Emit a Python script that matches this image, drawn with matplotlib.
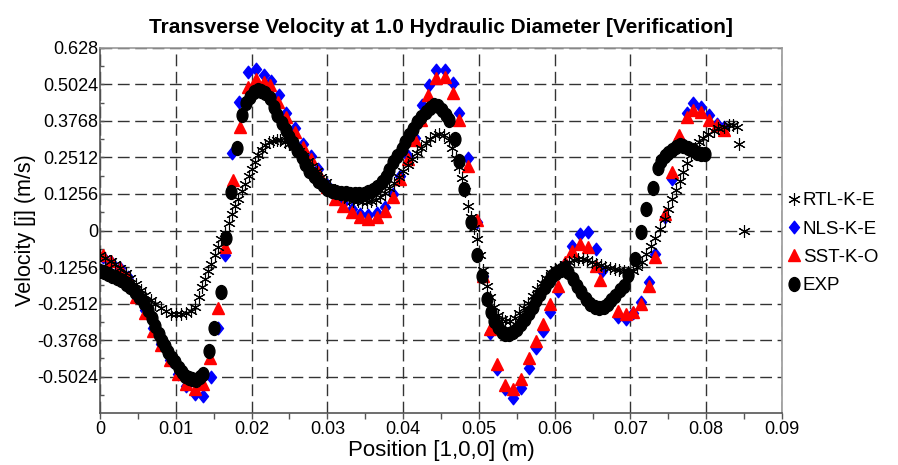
import matplotlib
matplotlib.use('Agg')
import matplotlib.pyplot as plt
from matplotlib.path import Path
from matplotlib.transforms import Affine2D
from matplotlib.ticker import FixedLocator, MultipleLocator

plt.rcParams['font.family'] = ['Liberation Sans', 'DejaVu Sans']

# RTL-K-E (asterisks)
rtl_x = [0.0000, 0.0007, 0.0014, 0.0020, 0.0027, 0.0034, 0.0040, 0.0047, 0.0054, 0.0060,
         0.0067, 0.0073, 0.0080, 0.0087, 0.0094, 0.0100, 0.0107, 0.0114, 0.0120, 0.0125,
         0.0130, 0.0135, 0.0139, 0.0143, 0.0147, 0.0152, 0.0156, 0.0160, 0.0165, 0.0170,
         0.0174, 0.0178, 0.0182, 0.0187, 0.0191, 0.0196, 0.0200, 0.0205, 0.0209, 0.0214,
         0.0218, 0.0223, 0.0228, 0.0233, 0.0238, 0.0244, 0.0250, 0.0256, 0.0262, 0.0268,
         0.0274, 0.0280, 0.0286, 0.0292, 0.0298, 0.0304, 0.0310, 0.0316, 0.0322, 0.0328,
         0.0334, 0.0340, 0.0346, 0.0352, 0.0358, 0.0364, 0.0370, 0.0376, 0.0382, 0.0388,
         0.0394, 0.0400, 0.0406, 0.0412, 0.0418, 0.0424, 0.0430, 0.0436, 0.0442, 0.0448,
         0.0454, 0.0460, 0.0465, 0.0470, 0.0474, 0.0478, 0.0482, 0.0486, 0.0490, 0.0494,
         0.0498, 0.0502, 0.0506, 0.0511, 0.0515, 0.0520, 0.0525, 0.0530, 0.0535, 0.0541,
         0.0547, 0.0553, 0.0559, 0.0565, 0.0571, 0.0577, 0.0583, 0.0589, 0.0595, 0.0601,
         0.0607, 0.0613, 0.0619, 0.0625, 0.0631, 0.0637, 0.0643, 0.0649, 0.0655, 0.0661,
         0.0667, 0.0673, 0.0679, 0.0685, 0.0691, 0.0697, 0.0703, 0.0709, 0.0715, 0.0721,
         0.0727, 0.0733, 0.0739, 0.0745, 0.0750, 0.0755, 0.0760, 0.0765, 0.0770, 0.0775,
         0.0780, 0.0785, 0.0790, 0.0796, 0.0803, 0.0810, 0.0816, 0.0823, 0.0830, 0.0836,
         0.0841, 0.0843, 0.0850]
rtl_y = [-0.086, -0.094, -0.104, -0.115, -0.128, -0.145, -0.162, -0.183, -0.205, -0.222,
         -0.238, -0.253, -0.266, -0.278, -0.286, -0.289, -0.288, -0.284, -0.276, -0.262,
         -0.228, -0.195, -0.167, -0.140, -0.115, -0.086, -0.058, -0.030, -0.010, 0.025,
         0.058, 0.085, 0.109, 0.135, 0.161, 0.188, 0.213, 0.236, 0.259, 0.276,
         0.293, 0.303, 0.307, 0.310, 0.311, 0.306, 0.298, 0.287, 0.272, 0.256,
         0.240, 0.222, 0.204, 0.184, 0.166, 0.150, 0.136, 0.124, 0.115, 0.108,
         0.103, 0.100, 0.098, 0.098, 0.101, 0.106, 0.115, 0.128, 0.145, 0.163,
         0.183, 0.205, 0.226, 0.247, 0.267, 0.285, 0.302, 0.316, 0.327, 0.333,
         0.330, 0.312, 0.285, 0.250, 0.220, 0.180, 0.135, 0.085, 0.045, 0.010,
         -0.030, -0.085, -0.135, -0.190, -0.230, -0.262, -0.290, -0.305, -0.312, -0.310,
         -0.300, -0.285, -0.268, -0.248, -0.225, -0.202, -0.180, -0.162, -0.146, -0.134,
         -0.124, -0.115, -0.108, -0.103, -0.099, -0.098, -0.102, -0.109, -0.115, -0.120,
         -0.125, -0.129, -0.132, -0.136, -0.139, -0.142, -0.140, -0.125, -0.109, -0.082,
         -0.055, -0.025, 0.005, 0.040, 0.075, 0.109, 0.140, 0.170, 0.200, 0.232,
         0.260, 0.285, 0.305, 0.320, 0.333, 0.343, 0.351, 0.357, 0.362, 0.362,
         0.356, 0.299, 0.000]

# NLS-K-E (blue diamonds)
nls_x = [0.0004, 0.0015, 0.0026, 0.0037, 0.0048, 0.0059, 0.0070, 0.0081, 0.0092, 0.0103,
         0.0114, 0.0125, 0.0136, 0.0147, 0.0156, 0.0165, 0.0174, 0.0184, 0.0195, 0.0206,
         0.0216, 0.0226, 0.0236, 0.0246, 0.0257, 0.0268, 0.0278, 0.0288, 0.0299, 0.0310,
         0.0321, 0.0332, 0.0343, 0.0354, 0.0365, 0.0376, 0.0386, 0.0396, 0.0406, 0.0416,
         0.0425, 0.0434, 0.0444, 0.0455, 0.0466, 0.0474, 0.0485, 0.0497, 0.0506, 0.0514,
         0.0524, 0.0534, 0.0545, 0.0555, 0.0566, 0.0575, 0.0584, 0.0594, 0.0605, 0.0614,
         0.0623, 0.0634, 0.0644, 0.0654, 0.0662, 0.0684, 0.0694, 0.0704, 0.0714, 0.0724,
         0.0733, 0.0745, 0.0755, 0.0764, 0.0774, 0.0783, 0.0793, 0.0804, 0.0814, 0.0824]
nls_y = [-0.090, -0.108, -0.128, -0.160, -0.215, -0.275, -0.335, -0.390, -0.445, -0.495,
         -0.535, -0.564, -0.568, -0.504, -0.337, -0.084, 0.265, 0.443, 0.546, 0.557,
         0.535, 0.515, 0.466, 0.403, 0.351, 0.299, 0.255, 0.210, 0.158, 0.118,
         0.095, 0.075, 0.058, 0.052, 0.060, 0.080, 0.125, 0.188, 0.256, 0.320,
         0.431, 0.500, 0.552, 0.552, 0.506, 0.405, 0.250, 0.029, -0.155, -0.351,
         -0.478, -0.547, -0.576, -0.541, -0.472, -0.403, -0.345, -0.282, -0.207, -0.115,
         -0.052, -0.012, -0.006, -0.065, -0.140, -0.299, -0.305, -0.285, -0.245, -0.178,
         -0.081, 0.046, 0.178, 0.316, 0.403, 0.437, 0.425, 0.397, 0.368, 0.356]

# SST-K-O (red triangles)
sst_x = [0.0004, 0.0015, 0.0026, 0.0037, 0.0048, 0.0059, 0.0070, 0.0081, 0.0092, 0.0103,
         0.0114, 0.0125, 0.0136, 0.0145, 0.0156, 0.0165, 0.0176, 0.0185, 0.0195, 0.0206,
         0.0216, 0.0224, 0.0235, 0.0246, 0.0257, 0.0268, 0.0278, 0.0288, 0.0299, 0.0310,
         0.0321, 0.0332, 0.0343, 0.0354, 0.0365, 0.0376, 0.0386, 0.0396, 0.0406, 0.0416,
         0.0424, 0.0433, 0.0444, 0.0455, 0.0466, 0.0474, 0.0485, 0.0497, 0.0506, 0.0514,
         0.0524, 0.0534, 0.0545, 0.0555, 0.0566, 0.0575, 0.0584, 0.0594, 0.0605, 0.0614,
         0.0623, 0.0634, 0.0644, 0.0654, 0.0660, 0.0684, 0.0694, 0.0704, 0.0714, 0.0724,
         0.0733, 0.0745, 0.0755, 0.0764, 0.0774, 0.0783, 0.0793, 0.0804, 0.0814, 0.0824]
sst_y = [-0.085, -0.105, -0.130, -0.165, -0.228, -0.285, -0.345, -0.395, -0.445, -0.495,
         -0.528, -0.546, -0.528, -0.437, -0.265, -0.058, 0.173, 0.356, 0.495, 0.523,
         0.512, 0.500, 0.443, 0.391, 0.339, 0.288, 0.245, 0.200, 0.150, 0.110,
         0.085, 0.065, 0.046, 0.040, 0.045, 0.068, 0.115, 0.178, 0.245, 0.310,
         0.380, 0.466, 0.524, 0.529, 0.472, 0.380, 0.223, 0.035, -0.155, -0.339,
         -0.460, -0.530, -0.547, -0.512, -0.437, -0.380, -0.322, -0.253, -0.190, -0.109,
         -0.069, -0.046, -0.058, -0.121, -0.170, -0.276, -0.288, -0.282, -0.253, -0.190,
         -0.092, 0.058, 0.201, 0.328, 0.391, 0.414, 0.408, 0.380, 0.362, 0.345]

# EXP (black circles)
exp_x = [0.0000, 0.0005, 0.0010, 0.0016, 0.0022, 0.0028, 0.0034, 0.0040, 0.0046, 0.0052,
         0.0058, 0.0063, 0.0068, 0.0073, 0.0078, 0.0082, 0.0086, 0.0090, 0.0095, 0.0099,
         0.0104, 0.0108, 0.0112, 0.0117, 0.0122, 0.0127, 0.0132, 0.0136, 0.0144, 0.0150,
         0.0159, 0.0166, 0.0173, 0.0181, 0.0187, 0.0193, 0.0198, 0.0203, 0.0208, 0.0213,
         0.0218, 0.0224, 0.0229, 0.0234, 0.0240, 0.0245, 0.0250, 0.0255, 0.0260, 0.0266,
         0.0271, 0.0276, 0.0282, 0.0288, 0.0294, 0.0300, 0.0306, 0.0312, 0.0318, 0.0324,
         0.0330, 0.0336, 0.0342, 0.0348, 0.0354, 0.0360, 0.0366, 0.0372, 0.0377, 0.0382,
         0.0387, 0.0392, 0.0398, 0.0403, 0.0408, 0.0413, 0.0418, 0.0424, 0.0430, 0.0436,
         0.0441, 0.0446, 0.0451, 0.0456, 0.0460, 0.0468, 0.0474, 0.0481, 0.0489, 0.0497,
         0.0504, 0.0511, 0.0516, 0.0520, 0.0525, 0.0530, 0.0535, 0.0540, 0.0545, 0.0550,
         0.0556, 0.0561, 0.0566, 0.0571, 0.0576, 0.0581, 0.0587, 0.0592, 0.0597, 0.0602,
         0.0608, 0.0613, 0.0618, 0.0624, 0.0629, 0.0635, 0.0641, 0.0647, 0.0653, 0.0659,
         0.0665, 0.0670, 0.0675, 0.0680, 0.0686, 0.0691, 0.0697, 0.0706, 0.0714, 0.0721,
         0.0730, 0.0736, 0.0740, 0.0745, 0.0750, 0.0755, 0.0760, 0.0765, 0.0770, 0.0776,
         0.0782, 0.0788, 0.0793, 0.0798]
exp_y = [-0.138, -0.142, -0.148, -0.155, -0.163, -0.172, -0.183, -0.195, -0.210, -0.228,
         -0.250, -0.275, -0.300, -0.328, -0.355, -0.380, -0.397, -0.418, -0.438, -0.454,
         -0.472, -0.488, -0.500, -0.508, -0.512, -0.513, -0.505, -0.495, -0.415, -0.337,
         -0.210, -0.026, 0.132, 0.284, 0.397, 0.440, 0.460, 0.477, 0.483, 0.480,
         0.473, 0.455, 0.425, 0.398, 0.370, 0.345, 0.322, 0.300, 0.278, 0.252,
         0.228, 0.205, 0.188, 0.170, 0.155, 0.142, 0.136, 0.132, 0.130, 0.128,
         0.127, 0.126, 0.126, 0.127, 0.131, 0.138, 0.150, 0.168, 0.185, 0.208,
         0.236, 0.258, 0.282, 0.305, 0.330, 0.350, 0.372, 0.391, 0.408, 0.423,
         0.431, 0.428, 0.414, 0.398, 0.379, 0.316, 0.238, 0.144, 0.029, -0.084,
         -0.155, -0.234, -0.280, -0.310, -0.332, -0.348, -0.356, -0.357, -0.350, -0.338,
         -0.322, -0.305, -0.285, -0.262, -0.240, -0.218, -0.195, -0.175, -0.158, -0.145,
         -0.135, -0.130, -0.142, -0.167, -0.192, -0.213, -0.235, -0.252, -0.262, -0.266,
         -0.262, -0.252, -0.240, -0.225, -0.205, -0.190, -0.153, -0.098, -0.006, 0.074,
         0.146, 0.215, 0.240, 0.255, 0.268, 0.278, 0.288, 0.293, 0.292, 0.285,
         0.276, 0.268, 0.264, 0.264]

y_ticks = [0.628, 0.5024, 0.3768, 0.2512, 0.1256, 0, -0.1256, -0.2512, -0.3768, -0.5024]
y_labels = ['0.628', '0.5024', '0.3768', '0.2512', '0.1256', '0',
            '-0.1256', '-0.2512', '-0.3768', '-0.5024']
x_ticks = [0, 0.01, 0.02, 0.03, 0.04, 0.05, 0.06, 0.07, 0.08, 0.09]
x_labels = ['0', '0.01', '0.02', '0.03', '0.04', '0.05', '0.06', '0.07', '0.08', '0.09']

# slightly tall markers like the original
ellipse = Path.unit_circle().transformed(Affine2D().scale(0.78, 1.0))
diamond = Path([(0, 1), (0.8, 0), (0, -1), (-0.8, 0), (0, 1)],
               [Path.MOVETO, Path.LINETO, Path.LINETO, Path.LINETO, Path.CLOSEPOLY])

fig = plt.figure(figsize=(8.98, 4.65), dpi=100)
ax = fig.add_axes([0.1114, 0.1118, 0.7594, 0.7850])

ax.plot(nls_x, nls_y, ls='none', marker=diamond, ms=9, color='#0000ff', label='NLS-K-E', zorder=3)
ax.plot(sst_x, sst_y, ls='none', marker='^', ms=8, color='#ff0000', label='SST-K-O', zorder=4)
ax.plot(rtl_x, rtl_y, ls='none', marker=(6, 2, 0), ms=9, mew=0.8, color='black', label='RTL-K-E', zorder=5)
ax.plot(exp_x, exp_y, ls='none', marker=ellipse, ms=10, color='black', label='EXP', zorder=6)

ax.set_xlim(0, 0.09)
ax.set_ylim(-0.628, 0.628)
ax.set_xticks(x_ticks)
ax.set_xticklabels(x_labels)
ax.set_yticks(y_ticks)
ax.set_yticklabels(y_labels)
ax.xaxis.set_minor_locator(MultipleLocator(0.005))
ax.yaxis.set_minor_locator(FixedLocator([v - 0.0628 for v in y_ticks]))
ax.tick_params(axis='x', which='both', direction='out', length=4, width=1,
               color='#555555', labelsize=13, pad=1.5)
ax.tick_params(axis='y', which='both', direction='in', length=3, width=1,
               color='#555555', labelsize=13, pad=1.5)
ax.grid(True, which='major', color='#333333', linestyle=(0, (8.5, 4)), linewidth=1)
ax.set_axisbelow(True)

for side in ['left', 'bottom']:
    ax.spines[side].set_color('#555555')
    ax.spines[side].set_linewidth(1.2)
for side in ['top', 'right']:
    ax.spines[side].set_color('#999999')
    ax.spines[side].set_linewidth(1.2)

ax.set_title('Transverse Velocity at 1.0 Hydraulic Diameter [Verification]',
             fontsize=15, fontweight='bold', pad=11)
ax.set_xlabel('Position [1,0,0] (m)', fontsize=16, labelpad=2)
ax.set_ylabel('Velocity [j] (m/s)', fontsize=15.5, labelpad=1)

handles, labels = ax.get_legend_handles_labels()
order = [2, 0, 1, 3]
fig.legend([handles[i] for i in order], [labels[i] for i in order],
           loc='center left', bbox_to_anchor=(0.868, 0.477), frameon=False,
           fontsize=13.5, handlelength=0.7, handletextpad=0.15, labelspacing=0.6,
           borderaxespad=0)

fig.savefig('out.png', dpi=100)
